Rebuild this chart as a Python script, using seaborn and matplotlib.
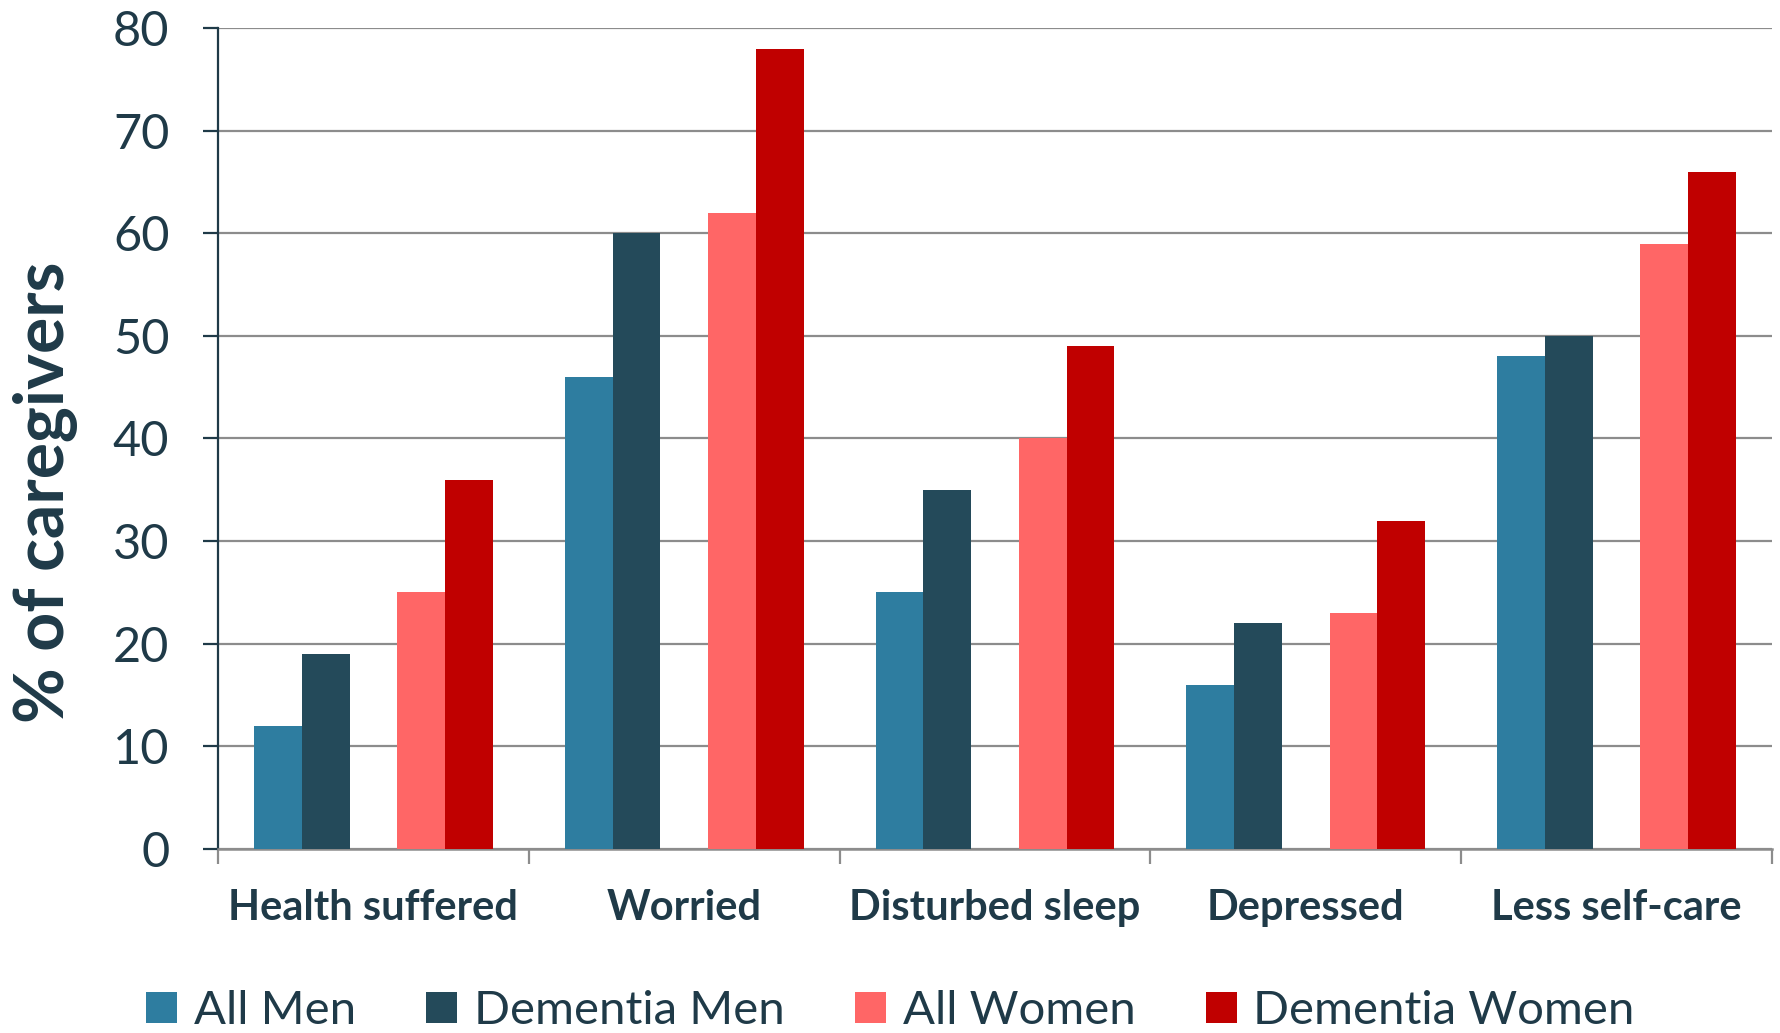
import matplotlib
matplotlib.use("Agg")
import matplotlib.pyplot as plt
import seaborn as sns
import pandas as pd

# Données
categories = ["Health suffered", "Worried", "Disturbed sleep", "Depressed", "Less self-care"]
all_men = [12, 46, 25, 16, 48]
dementia_men = [19, 60, 35, 22, 50]
all_women = [25, 62, 40, 23, 59]
dementia_women = [36, 78, 49, 32, 66]

series_names = ["All Men", "Dementia Men", "All Women", "Dementia Women"]
colors = {"All Men": "#2E7DA0", "Dementia Men": "#244A5A",
          "All Women": "#FF6666", "Dementia Women": "#C00000", " ": "white"}
text_color = "#1F3A48"

# Tableau long pour seaborn
rows = []
for name, vals in zip(series_names, [all_men, dementia_men, all_women, dementia_women]):
    for cat, v in zip(categories, vals):
        rows.append({"categorie": cat, "serie": name, "valeur": v})
df = pd.DataFrame(rows)

sns.set_style("white")
plt.rcParams['font.family'] = ['Lato', 'DejaVu Sans']

fig = plt.figure(figsize=(17.81, 10.33), dpi=100)
ax = fig.add_axes([218 / 1781, (1033 - 849) / 1033, (1772 - 218) / 1781, (849 - 28) / 1033])

# série vide au milieu pour l'espace entre hommes et femmes
hue_order = ["All Men", "Dementia Men", " ", "All Women", "Dementia Women"]
sns.barplot(data=df, x="categorie", y="valeur", hue="serie", hue_order=hue_order,
            order=categories, palette=colors, width=0.768, gap=0, saturation=1,
            linewidth=0, ax=ax, zorder=3)

ax.set_ylim(0, 80)
ax.set_xlim(-0.5, len(categories) - 0.5)
ax.set_yticks(range(0, 81, 10))
ax.yaxis.grid(True, color="#8C8C8C", linewidth=1.6, zorder=0)
ax.set_axisbelow(True)

for s in ["top", "right"]:
    ax.spines[s].set_visible(False)
ax.spines["left"].set_color(text_color)
ax.spines["left"].set_linewidth(1.6)
ax.spines["bottom"].set_color("#8C8C8C")
ax.spines["bottom"].set_linewidth(1.8)

ax.tick_params(axis="y", left=True, length=11, width=1.6, color=text_color,
               labelsize=35, labelcolor=text_color, pad=24)
ax.tick_params(axis="x", which="major", length=0, labelsize=30, labelcolor=text_color, pad=29)
ax.set_xticks([i - 0.5 for i in range(len(categories) + 1)], minor=True)
ax.tick_params(axis="x", which="minor", bottom=True, length=11, width=1.6, color="#8C8C8C")
for lab in ax.get_xticklabels():
    lab.set_fontweight("bold")

ax.set_xlabel("")
ax.set_ylabel("% of caregivers", fontsize=49, fontweight="bold", color=text_color)
ax.yaxis.set_label_coords(-0.090, 0.434)

handles, labels = ax.get_legend_handles_labels()
keep = [(h, l) for h, l in zip(handles, labels) if l.strip()]
ax.legend([h for h, l in keep], [l for h, l in keep], ncol=4, loc="center",
          bbox_to_anchor=(0.5, 1 - 1011 / 1033), bbox_transform=fig.transFigure,
          frameon=False, fontsize=34, labelcolor=text_color,
          handlelength=0.65, handleheight=0.65, handletextpad=0.35, columnspacing=1.5)

fig.savefig("out.png", dpi=100)
